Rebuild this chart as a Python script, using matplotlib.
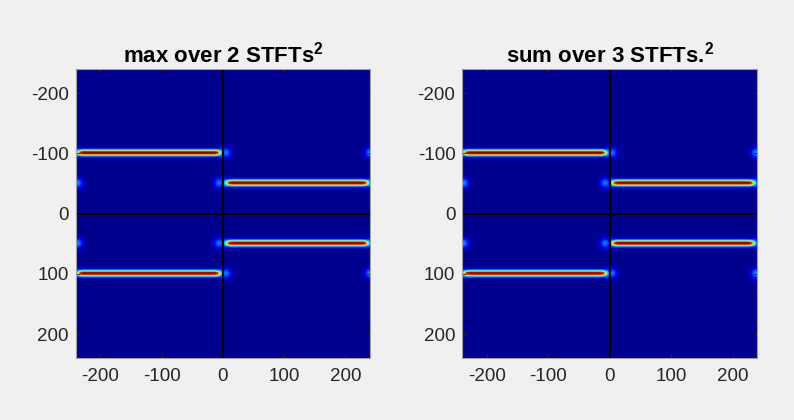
import numpy as np
import matplotlib
matplotlib.use("Agg")
import matplotlib.pyplot as plt
from matplotlib.colors import LinearSegmentedColormap
from math import erf

plt.rcParams['font.family'] = ['Liberation Sans', 'DejaVu Sans']
plt.rcParams['mathtext.fontset'] = 'custom'
plt.rcParams['mathtext.rm'] = 'Liberation Sans'
plt.rcParams['mathtext.bf'] = 'Liberation Sans:bold'
plt.rcParams['axes.unicode_minus'] = False

# ---- data ----
titles = ["max over 2 STFTs", "sum over 3 STFTs."]
tick_values = [-200, -100, 0, 100, 200]
axis_limit = 240

# chirp-like ridges: frequency, start time, end time, amplitude
line_freqs = [-100, 100, -50, 50]
line_t_start = [-238, -238, 4, 4]
line_t_end = [-5, -5, 236, 236]
line_amp = [1.0, 1.0, 1.0, 1.0]

# faint leakage spots: time, frequency, amplitude
spot_t = [-238, -7, 4, 239, -238, -7, 4, 239]
spot_f = [-50, -50, -100, -100, 50, 50, 100, 100]
spot_amp = [0.26, 0.24, 0.24, 0.26, 0.26, 0.24, 0.24, 0.26]

# ---- colormap (MATLAB-like jet) ----
jet_m = LinearSegmentedColormap.from_list("jetm", [
    (0.0, (0, 0, 0.5625)), (0.11, (0, 0, 1)), (0.36, (0, 1, 1)),
    (0.61, (1, 1, 0)), (0.86, (1, 0, 0)), (1.0, (0.5, 0, 0))])

t = np.arange(-axis_limit, axis_limit + 1, 1.0)
f = np.arange(-axis_limit, axis_limit + 1, 1.0)
T, F = np.meshgrid(t, f)
verf = np.vectorize(erf)


def build_image():
    img = np.zeros_like(T)
    sig_f = 3.5
    w = 6.0
    for fr, t0, t1, a in zip(line_freqs, line_t_start, line_t_end, line_amp):
        env = 0.5 * (verf((t - t0) / w) - verf((t - t1) / w))
        prof = np.exp(-(f - fr) ** 2 / (2 * sig_f ** 2))
        img = np.maximum(img, a * np.outer(prof, env))
        for te in (t0, t1):
            blob = 0.38 * np.exp(-((T - te) ** 2 / (2 * 4.0 ** 2) + (F - fr) ** 2 / (2 * 5.0 ** 2)))
            img = np.maximum(img, blob)
    for ts, fs, a in zip(spot_t, spot_f, spot_amp):
        blob = a * np.exp(-((T - ts) ** 2 + (F - fs) ** 2) / (2 * 6.0 ** 2))
        img = np.maximum(img, blob)
    return img


fig = plt.figure(figsize=(7.94, 4.20), dpi=100)
fig.patch.set_facecolor('#f0f0f0')

positions = [[0.0953, 0.1469, 0.3707, 0.6888], [0.5823, 0.1469, 0.3712, 0.6888]]

for pos, title in zip(positions, titles):
    ax = fig.add_axes(pos)
    img = build_image()
    ax.imshow(img, cmap=jet_m, vmin=0, vmax=1,
              extent=[-axis_limit, axis_limit, axis_limit, -axis_limit],
              aspect='auto', interpolation='bilinear')
    ax.axvline(0, color='black', lw=1.5)
    ax.axhline(0, color='black', lw=1.5)
    ax.set_xlim(-axis_limit, axis_limit)
    ax.set_ylim(axis_limit, -axis_limit)
    ax.set_xticks(tick_values)
    ax.set_yticks(tick_values)
    ax.tick_params(direction='in', length=3, width=0.6, colors='#262626',
                   labelsize=13.5, top=True, right=True)
    ax.tick_params(axis='x', pad=7)
    ax.tick_params(axis='y', pad=5)
    for s in ax.spines.values():
        s.set_color('#a0a0a0')
        s.set_linewidth(0.8)
    ax.set_title(title + r'$^{\mathbf{2}}$', fontsize=16, fontweight='bold',
                 color='black', pad=5)

fig.savefig("out.png", dpi=100, facecolor=fig.get_facecolor())
